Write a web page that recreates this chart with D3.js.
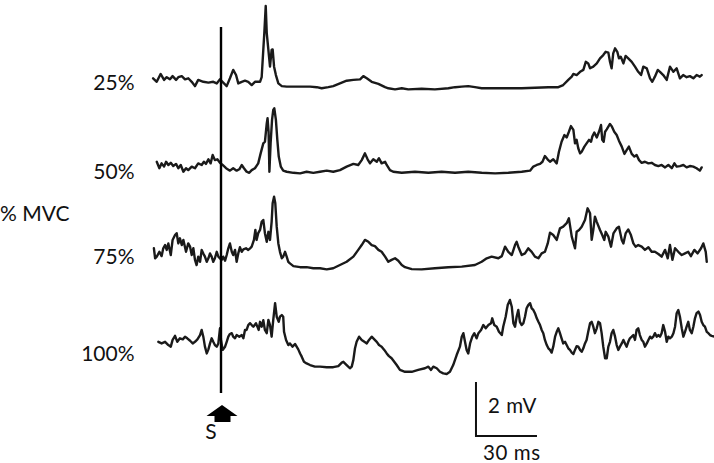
<!DOCTYPE html>
<html>
<head>
<meta charset="utf-8">
<script src="https://cdn.jsdelivr.net/npm/d3@7"></script>
<style>
  html, body { margin: 0; padding: 0; background: #ffffff; }
  svg { display: block; }
</style>
</head>
<body>
<svg id="chart" width="714" height="463"></svg>
<script>
// ---------------- DATA ----------------
// Contraction levels (categories)
const levels = ["25%", "50%", "75%", "100%"];
const axisTitle = "% MVC";
const stimulusLabel = "S";
const scaleBarTimeMs = 30;
const scaleBarTimeLabel = "30 ms";
const scaleBarVoltMv = 2;
const scaleBarVoltLabel = "2 mV";

// EMG traces: [time (ms, 0 = stimulus), amplitude (mV, relative to trace baseline)]
const emg25 = [
  [-33.4,0.36],[-31.6,0.23],[-29.7,0.52],[-28.0,0.30],[-26.7,0.40],[-25.1,0.32],[-23.8,0.44],[-22.1,0.30],
  [-21.0,0.40],[-19.3,0.44],[-17.7,0.32],[-16.1,0.36],[-14.4,0.23],[-12.8,0.07],[-11.2,0.30],[-8.7,0.23],
  [-6.2,0.20],[-3.8,0.23],[-2.1,0.17],[-0.5,0.32],[1.1,0.20],[2.8,0.07],[4.4,0.36],[6.0,0.67],[7.4,0.48],
  [8.5,0.17],[10.2,0.23],[11.8,0.27],[13.4,0.23],[15.1,0.11],[16.7,0.23],[19.2,0.23],[20.0,0.40],[20.8,1.41],
  [21.3,2.03],[22.0,3.04],[22.5,2.03],[23.3,1.41],[24.1,0.79],[24.9,1.41],[25.4,1.43],[26.1,0.79],[27.0,0.48],
  [28.2,0.17],[29.9,0.07],[32.3,0.05],[35.6,0.05],[38.9,0.05],[43.8,0.05],[47.1,0.03],[49.5,-0.01],[52.8,0.03],
  [55.2,0.07],[58.5,0.17],[61.8,0.27],[65.1,0.30],[68.4,0.32],[70.0,0.44],[71.7,0.36],[74.1,0.23],[77.4,0.15],
  [80.7,0.03],[82.3,-0.01],[85.6,-0.05],[88.9,-0.01],[92.1,-0.05],[98.7,-0.03],[105.2,-0.05],[111.8,-0.01],
  [115.1,0.03],[118.4,0.05],[121.6,0.07],[124.9,0.03],[128.2,-0.01],[134.8,-0.01],[141.3,-0.01],[147.9,-0.01],
  [154.4,0.01],[161.0,0.03],[165.9,0.03],[168.3,0.11],[170.8,0.30],[172.5,0.42],[173.3,0.52],[174.9,0.48],
  [176.6,0.60],[178.2,0.67],[179.4,0.97],[180.6,0.91],[181.5,0.73],[183.1,0.79],[184.8,0.91],[186.4,1.10],
  [188.0,1.22],[189.2,1.34],[190.5,1.31],[191.3,0.97],[192.1,0.73],[192.9,1.28],[193.8,1.47],[194.9,1.34],
  [195.7,1.10],[196.6,1.16],[197.9,0.91],[199.0,1.19],[200.3,1.10],[202.0,0.97],[203.6,0.79],[205.2,0.60],
  [206.6,0.48],[207.7,0.79],[209.4,0.73],[211.0,0.36],[212.1,0.23],[213.4,0.42],[214.8,0.67],[215.9,0.60],
  [217.5,0.48],[219.2,0.30],[220.8,0.79],[222.5,0.60],[224.1,0.73],[225.7,0.36],[227.3,0.48],[229.0,0.40],
  [230.6,0.44],[232.3,0.36],[233.9,0.48],[235.5,0.42],[236.4,0.48]
];

const emg50 = [
  [-31.6,0.38],[-30.3,0.14],[-29.2,0.32],[-28.0,0.20],[-27.0,0.38],[-25.9,0.26],[-24.7,0.34],[-23.5,0.22],
  [-22.1,0.30],[-21.0,0.14],[-19.8,0.26],[-18.5,0.01],[-17.2,0.14],[-16.1,0.07],[-14.4,0.20],[-12.8,0.14],
  [-11.2,0.32],[-9.5,0.26],[-8.4,0.38],[-7.4,0.30],[-6.2,0.47],[-5.1,0.32],[-4.1,0.63],[-3.0,0.44],[-1.8,0.47],
  [-0.5,0.34],[0.8,0.26],[2.5,0.14],[4.4,0.05],[6.0,0.14],[7.7,0.05],[9.0,0.10],[10.2,0.26],[11.3,0.14],
  [12.6,0.01],[13.9,-0.03],[15.1,0.07],[16.7,0.14],[18.3,0.32],[19.5,0.69],[20.8,1.06],[21.6,1.12],[22.5,1.80],
  [22.9,1.99],[23.4,1.49],[23.8,0.01],[24.4,1.06],[25.1,1.93],[25.7,2.30],[26.2,2.36],[27.0,1.93],[27.7,1.19],
  [28.4,0.57],[29.4,0.20],[30.6,0.05],[32.3,0.01],[35.6,-0.03],[38.9,-0.05],[42.1,0.01],[45.4,-0.03],
  [48.7,0.01],[52.0,0.05],[55.2,0.01],[58.5,0.07],[61.8,0.20],[65.1,0.30],[67.5,0.26],[69.2,0.44],[70.8,0.69],
  [72.1,0.47],[73.3,0.32],[74.9,0.47],[76.6,0.38],[77.7,0.51],[79.0,0.32],[80.7,0.38],[81.5,0.26],[83.1,0.07],
  [84.7,0.01],[88.9,-0.03],[95.4,0.01],[102.0,-0.03],[108.5,0.01],[115.1,-0.03],[121.6,0.01],[128.2,-0.03],
  [134.8,-0.05],[141.3,-0.03],[147.9,0.01],[152.0,0.05],[153.6,0.20],[155.3,0.26],[156.9,0.30],[158.1,0.38],
  [159.3,0.59],[160.6,0.47],[161.8,0.38],[163.4,0.47],[165.1,0.32],[166.2,0.75],[167.5,1.12],[168.9,1.37],
  [170.0,1.28],[171.1,1.49],[172.1,1.70],[173.3,1.56],[174.1,1.06],[174.9,1.19],[175.7,0.88],[176.6,0.69],
  [177.4,0.75],[178.7,0.94],[179.8,1.06],[181.0,1.19],[182.0,1.12],[182.6,1.31],[183.6,1.46],[184.8,1.28],
  [185.9,1.49],[186.9,1.74],[187.5,1.19],[188.2,1.12],[188.9,1.49],[189.7,1.58],[190.5,1.68],[191.3,1.78],
  [192.1,1.70],[193.4,1.49],[194.6,1.37],[195.7,1.16],[197.1,0.94],[198.4,0.67],[199.5,0.81],[200.6,0.94],
  [202.0,0.67],[203.3,0.57],[204.4,0.63],[205.6,0.44],[206.9,0.34],[208.5,0.38],[210.2,0.32],[211.8,0.34],
  [213.4,0.26],[215.1,0.22],[216.7,0.26],[218.4,0.17],[220.0,0.26],[221.7,0.14],[223.0,0.32],[224.1,0.20],
  [225.7,0.22],[227.4,0.26],[229.0,0.17],[230.6,0.22],[232.3,0.20],[233.9,0.14],[235.5,0.05],[236.4,0.17]
];

const emg75 = [
  [-33.0,0.73],[-32.4,0.36],[-31.6,0.42],[-30.3,0.60],[-29.2,0.44],[-28.4,0.73],[-27.5,0.85],[-26.7,0.67],
  [-25.9,0.91],[-24.7,0.48],[-23.8,1.04],[-22.6,1.22],[-21.8,1.29],[-21.0,0.91],[-20.2,1.10],[-19.3,0.85],
  [-18.5,1.04],[-17.2,0.60],[-16.1,0.91],[-15.2,0.79],[-14.4,0.48],[-13.6,0.73],[-12.8,0.30],[-12.0,0.11],
  [-11.2,0.42],[-10.3,0.23],[-9.5,0.67],[-8.7,0.54],[-7.9,0.42],[-7.0,0.23],[-6.2,0.36],[-5.4,0.54],[-4.6,0.42],
  [-3.8,0.23],[-3.0,0.36],[-2.1,0.60],[-1.3,0.42],[-0.5,0.36],[0.3,0.30],[1.1,0.42],[2.0,0.27],[2.8,0.48],
  [3.6,0.73],[4.4,0.91],[5.3,0.60],[6.0,0.48],[6.9,0.67],[7.7,0.23],[8.5,0.54],[9.3,0.77],[10.2,0.60],[11.0,0.69],
  [12.3,0.73],[13.4,0.67],[14.3,0.73],[15.1,0.79],[16.2,1.04],[16.9,1.41],[17.5,1.04],[18.3,1.29],[19.2,1.41],
  [20.0,1.71],[20.8,1.78],[21.6,1.29],[22.5,0.97],[23.3,1.34],[24.1,1.04],[24.9,1.71],[25.4,2.40],[26.1,2.64],
  [26.7,2.40],[27.4,1.53],[28.2,0.91],[29.0,0.60],[29.9,0.36],[30.6,0.42],[31.5,0.60],[32.3,0.42],[33.1,0.23],
  [33.9,0.17],[35.6,0.07],[38.9,0.03],[42.1,0.03],[45.4,-0.01],[48.7,-0.01],[52.0,-0.05],[55.2,-0.01],[58.5,0.11],
  [61.8,0.23],[65.1,0.42],[67.5,0.67],[69.2,0.85],[70.8,1.04],[72.5,0.97],[74.1,0.85],[75.7,0.81],[77.4,0.67],
  [79.0,0.60],[80.7,0.42],[82.3,0.23],[83.9,0.30],[85.6,0.36],[87.2,0.27],[88.9,0.11],[90.5,0.03],[93.8,-0.04],
  [98.7,-0.05],[105.2,-0.01],[111.8,0.03],[118.4,0.05],[124.9,0.11],[128.2,0.23],[130.7,0.36],[133.1,0.42],
  [136.4,0.36],[138.1,0.44],[139.7,0.79],[141.3,0.60],[143.0,0.48],[144.6,0.85],[145.4,0.97],[146.2,0.79],
  [147.9,0.48],[149.5,0.54],[151.1,0.73],[152.8,0.60],[154.4,0.42],[156.1,0.36],[157.7,0.54],[159.3,0.60],
  [160.7,0.91],[161.8,1.31],[163.4,1.22],[165.1,1.04],[166.7,1.47],[168.3,1.53],[170.0,1.66],[171.1,1.84],
  [172.5,1.16],[174.1,0.73],[174.9,1.34],[176.1,1.41],[177.4,1.53],[179.0,1.78],[180.3,2.21],[181.5,2.03],
  [182.3,1.04],[183.1,1.41],[183.9,1.90],[184.8,1.71],[186.4,1.41],[187.5,1.22],[188.5,1.04],[189.2,1.34],
  [190.5,1.16],[191.8,0.79],[193.0,1.28],[194.6,1.47],[195.7,1.53],[197.1,1.04],[197.9,0.91],[199.0,1.28],
  [200.3,1.43],[201.6,1.22],[202.8,0.91],[203.9,0.79],[205.2,0.85],[206.9,0.79],[208.5,0.67],[210.2,0.77],
  [211.8,0.60],[213.4,0.60],[215.1,0.52],[216.7,0.42],[218.4,0.67],[219.7,0.36],[220.8,0.85],[222.0,0.30],
  [223.3,0.73],[224.9,0.60],[226.6,0.48],[228.2,0.54],[229.8,0.60],[231.1,0.44],[232.8,0.67],[234.4,0.54],
  [236.1,0.73],[237.2,0.91],[238.4,0.60],[238.9,0.23]
];

const emg100 = [
  [-30.8,0.97],[-29.2,0.91],[-27.5,0.97],[-25.9,0.85],[-24.7,0.79],[-23.8,1.04],[-22.6,1.19],[-21.5,0.97],
  [-20.2,1.10],[-18.8,1.06],[-17.7,1.16],[-16.6,1.10],[-15.2,1.01],[-13.9,0.91],[-12.8,0.97],[-11.6,1.06],
  [-10.3,1.22],[-9.5,1.41],[-8.7,1.16],[-7.9,0.79],[-7.0,0.54],[-6.2,0.69],[-5.4,0.91],[-4.6,1.10],[-3.8,0.97],
  [-3.0,0.85],[-2.1,0.79],[-1.3,0.91],[-0.5,1.47],[0.0,1.04],[0.8,0.67],[2.0,0.79],[2.8,0.97],[3.6,1.16],
  [4.4,1.26],[5.3,1.29],[6.0,1.16],[6.9,1.10],[7.7,1.22],[9.0,1.16],[10.2,1.22],[11.0,1.10],[11.8,1.41],
  [12.6,1.41],[13.4,1.59],[14.3,1.66],[15.1,1.59],[15.9,1.53],[17.2,1.66],[17.9,1.53],[18.5,1.41],[19.2,1.71],
  [20.0,1.53],[20.8,1.77],[21.6,1.41],[22.5,1.29],[23.3,1.78],[24.1,1.59],[24.9,1.16],[25.7,1.78],[26.6,2.40],
  [27.4,1.90],[28.4,1.71],[29.0,1.90],[29.9,1.96],[30.6,1.90],[31.0,1.34],[32.0,1.04],[33.1,0.85],[33.9,0.91],
  [35.2,0.79],[36.4,0.89],[37.2,0.79],[38.0,0.69],[38.9,0.54],[39.7,0.42],[40.8,0.23],[42.1,0.17],[43.8,0.11],
  [46.2,0.05],[48.7,0.05],[52.0,0.03],[55.2,0.03],[57.7,0.07],[59.4,0.20],[60.2,0.23],[61.8,0.11],[63.4,-0.01],
  [64.3,0.05],[65.1,0.30],[65.9,0.73],[66.7,0.97],[67.9,1.16],[69.2,1.04],[70.5,0.97],[71.7,0.91],[72.8,1.04],
  [74.1,1.16],[75.4,1.06],[76.6,0.97],[77.7,0.85],[79.0,0.79],[80.3,0.67],[81.5,0.54],[82.6,0.44],[83.9,0.36],
  [85.2,0.23],[86.4,0.11],[88.0,-0.07],[90.5,-0.14],[93.8,-0.14],[97.0,-0.07],[100.3,-0.01],[102.0,0.05],
  [103.3,-0.07],[104.4,0.05],[106.1,-0.01],[107.7,-0.14],[109.3,-0.20],[111.0,-0.22],[112.6,-0.14],[114.2,0.11],
  [115.9,0.48],[117.5,0.79],[118.4,1.16],[119.2,1.29],[120.0,0.97],[120.8,0.67],[121.6,0.54],[122.5,0.91],
  [123.6,1.16],[124.6,1.29],[125.7,1.10],[126.6,1.29],[127.9,1.41],[129.0,1.59],[130.2,1.47],[131.5,1.59],
  [132.8,1.66],[133.4,1.84],[134.4,1.59],[135.6,1.53],[136.7,1.34],[138.1,1.22],[138.8,1.53],[140.0,1.90],
  [141.0,2.33],[142.1,2.52],[143.0,2.27],[143.8,1.66],[144.6,1.53],[145.4,1.90],[146.2,2.15],[147.0,1.71],
  [147.9,1.59],[148.7,1.66],[149.5,1.90],[150.3,2.21],[151.1,2.33],[152.0,2.40],[152.8,2.21],[153.6,2.15],
  [154.4,2.03],[155.3,1.84],[156.1,1.71],[156.9,1.59],[157.7,1.41],[158.5,1.29],[159.3,1.04],[160.2,0.85],
  [161.0,0.73],[161.8,0.67],[162.6,0.57],[163.4,0.79],[164.3,1.16],[165.1,1.34],[165.9,1.47],[166.7,1.29],
  [167.5,1.10],[168.3,0.91],[169.2,0.97],[170.0,0.85],[170.8,0.73],[171.6,0.67],[172.5,0.57],[173.3,0.52],
  [174.1,0.67],[174.9,0.81],[175.7,0.79],[176.6,0.67],[177.4,0.60],[178.2,0.73],[179.0,0.91],[179.8,1.04],
  [180.6,1.34],[181.5,1.66],[182.3,1.71],[183.1,1.53],[183.9,1.29],[184.8,1.47],[185.6,1.71],[186.4,1.66],
  [187.2,1.29],[188.0,0.79],[188.9,0.36],[189.7,0.36],[190.5,0.79],[191.3,0.97],[192.1,1.29],[192.9,1.41],
  [193.8,1.16],[194.6,0.85],[195.4,0.67],[196.2,0.79],[197.1,0.91],[197.9,1.04],[198.7,0.91],[199.5,0.79],
  [200.3,0.97],[201.1,1.10],[202.0,1.16],[202.8,1.22],[203.6,1.04],[204.4,1.41],[205.2,1.47],[206.0,1.22],
  [206.9,1.04],[207.7,0.97],[208.5,0.79],[209.4,0.91],[210.2,1.04],[211.0,1.16],[211.8,1.10],[212.6,1.16],
  [213.4,1.29],[214.3,1.16],[215.1,1.22],[215.9,1.16],[216.7,1.29],[217.5,1.59],[218.4,1.34],[219.2,0.97],
  [220.0,1.16],[220.8,1.10],[221.7,1.16],[222.5,1.29],[223.3,1.53],[224.1,2.03],[224.9,2.15],[225.7,1.90],
  [226.6,1.47],[227.4,1.16],[228.2,1.34],[229.0,1.53],[229.8,1.71],[230.6,1.41],[231.5,1.29],[232.3,1.53],
  [233.1,1.84],[233.9,2.03],[234.8,2.09],[235.6,1.96],[236.4,1.71],[237.2,1.59],[238.0,1.53],[238.9,1.34],
  [239.7,1.29],[240.5,1.22],[241.3,1.19],[242.6,1.16]
];

const traces = [emg25, emg50, emg75, emg100];

// ---------------- LAYOUT ----------------
const svg = d3.select("#chart");
const FONT = "Lato, 'Open Sans', 'Liberation Sans', sans-serif";
const INK = "#1a1a1a";

const x = d3.scaleLinear().domain([0, 30]).range([221, 282]);   // ms -> px
const pxPerMv = 27;
const baselines = [88, 172, 268, 368];                           // px baseline of each trace
const yScales = baselines.map(b => d3.scaleLinear().domain([0, scaleBarVoltMv]).range([b, b - scaleBarVoltMv * pxPerMv]));
const labelBaselineY = [89.5, 178.5, 263.5, 361];

// traces
traces.forEach((data, i) => {
  const line = d3.line()
    .x(d => x(d[0]))
    .y(d => yScales[i](d[1]))
    .curve(d3.curveLinear);
  svg.append("path")
    .datum(data)
    .attr("d", line)
    .attr("fill", "none")
    .attr("stroke", INK)
    .attr("stroke-width", 2.4)
    .attr("stroke-linejoin", "round")
    .attr("stroke-linecap", "round");
});

// level labels
svg.selectAll("text.level")
  .data(levels)
  .join("text")
  .attr("class", "level")
  .attr("x", 134.5)
  .attr("y", (d, i) => labelBaselineY[i])
  .attr("text-anchor", "end")
  .attr("font-family", FONT)
  .attr("font-size", 21)
  .attr("fill", "#111")
  .text(d => d);

// axis title
svg.append("text")
  .attr("x", 0)
  .attr("y", 221)
  .attr("font-family", FONT)
  .attr("font-size", 21)
  .attr("fill", "#111")
  .text(axisTitle);

// stimulus line
svg.append("line")
  .attr("x1", x(0)).attr("x2", x(0))
  .attr("y1", 27).attr("y2", 393)
  .attr("stroke", "#000")
  .attr("stroke-width", 2.4);

// stimulus arrow
const ax = x(0) + 1;
const arrow = d3.path();
arrow.moveTo(ax, 405);
arrow.lineTo(ax + 15.5, 416);
arrow.lineTo(ax + 8.5, 416);
arrow.lineTo(ax + 8.5, 422);
arrow.lineTo(ax - 7.5, 422);
arrow.lineTo(ax - 7.5, 416);
arrow.lineTo(ax - 15.5, 416);
arrow.closePath();
svg.append("path").attr("d", arrow.toString()).attr("fill", "#000");

svg.append("text")
  .attr("x", 211)
  .attr("y", 439)
  .attr("text-anchor", "middle")
  .attr("font-family", FONT)
  .attr("font-size", 21)
  .attr("fill", "#111")
  .text(stimulusLabel);

// scale bar
const barT0 = 125.4;  // ms position of scale bar corner
const barY0 = 436;
const bx = x(barT0);
const bx1 = x(barT0 + scaleBarTimeMs);
svg.append("path")
  .attr("d", `M${bx},${barY0 - scaleBarVoltMv * pxPerMv}V${barY0}H${bx1}`)
  .attr("fill", "none")
  .attr("stroke", "#111")
  .attr("stroke-width", 2);

svg.append("text")
  .attr("x", 488)
  .attr("y", 412.5)
  .attr("font-family", FONT)
  .attr("font-size", 20.5)
  .attr("letter-spacing", 0.6)
  .attr("fill", "#111")
  .text(scaleBarVoltLabel);

svg.append("text")
  .attr("x", 483)
  .attr("y", 460)
  .attr("font-family", FONT)
  .attr("font-size", 20.5)
  .attr("letter-spacing", 0.6)
  .attr("fill", "#111")
  .text(scaleBarTimeLabel);
</script>
</body>
</html>
